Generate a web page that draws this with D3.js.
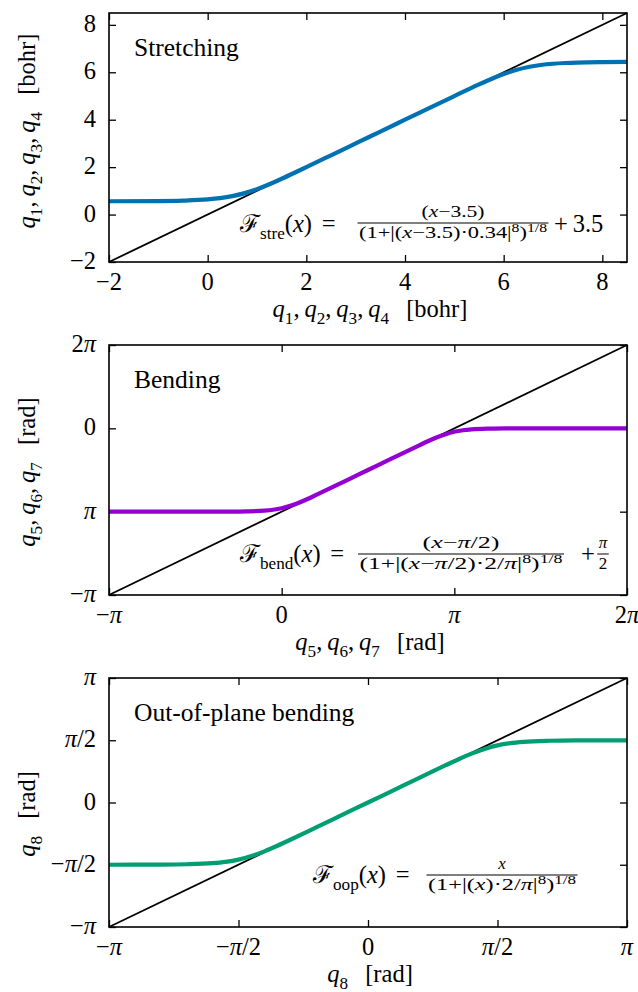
<!DOCTYPE html>
<html>
<head>
<meta charset="utf-8">
<script src="https://cdn.jsdelivr.net/npm/d3@7"></script>
<style>
  body { margin: 0; background: #fff; }
  svg text { font-family: "Liberation Serif", "DejaVu Serif", serif; fill: #000; white-space: pre; }
</style>
</head>
<body>
<svg id="fig" width="638" height="992"></svg>
<script>
// ---- data ---------------------------------------------------------------
// Stretching coordinate (bohr)
const streX = [-2, -1, -0.5, 0, 0.25, 0.5, 0.75, 1, 1.25, 1.5, 1.75, 2, 2.5, 3, 3.5, 4, 4.5, 5, 5.25, 5.5, 5.75, 6, 6.25, 6.5, 6.75, 7, 7.25, 7.5, 8, 8.5];
const streY = [0.561, 0.571, 0.589, 0.639, 0.692, 0.777, 0.904, 1.074, 1.281, 1.511, 1.753, 2.001, 2.500, 3.000, 3.500, 4.000, 4.500, 4.999, 5.247, 5.489, 5.719, 5.926, 6.096, 6.223, 6.308, 6.361, 6.392, 6.411, 6.429, 6.436];
const streDomain = [-2, 8.5];
const streTicks = [-2, 0, 2, 4, 6, 8];
const streTickLabels = ["−2", "0", "2", "4", "6", "8"];

// Bending coordinate (in units of pi)
const bendX = [-1.0, -0.7, -0.5, -0.3, -0.2, -0.1, -0.05, 0.0, 0.05, 0.1, 0.15, 0.2, 0.3, 0.4, 0.5, 0.6, 0.7, 0.8, 0.85, 0.9, 0.95, 1.0, 1.05, 1.1, 1.2, 1.3, 1.5, 1.7, 2.0];
const bendY = [0.0, 0.0001, 0.0002, 0.0014, 0.0041, 0.0129, 0.0234, 0.0415, 0.0697, 0.1077, 0.1524, 0.2006, 0.3, 0.4, 0.5, 0.6, 0.7, 0.7994, 0.8476, 0.8923, 0.9303, 0.9585, 0.9766, 0.9871, 0.9959, 0.9986, 0.9998, 0.9999, 1.0];
const bendDomain = [-1, 2];
const bendXTicks = [-1, 0, 1, 2];
const bendXTickLabels = ["−π", "0", "π", "2π"];
const bendYTicks = [-1, 0, 1, 2];
const bendYTickLabels = ["−π", "π", "0", "2π"];

// Out-of-plane bending coordinate (in units of pi)
const oopX = [-1.0, -0.8, -0.7, -0.6, -0.55, -0.5, -0.45, -0.4, -0.35, -0.3, -0.2, -0.1, 0, 0.1, 0.2, 0.3, 0.35, 0.4, 0.45, 0.5, 0.55, 0.6, 0.7, 0.8, 1.0];
const oopY = [-0.4998, -0.4986, -0.4959, -0.4871, -0.4766, -0.4585, -0.4303, -0.3923, -0.3476, -0.2994, -0.2, -0.1, 0, 0.1, 0.2, 0.2994, 0.3476, 0.3923, 0.4303, 0.4585, 0.4766, 0.4871, 0.4959, 0.4986, 0.4998];
const oopDomain = [-1, 1];
const oopTicks = [-1, -0.5, 0, 0.5, 1];
const oopTickLabels = ["−π", "−π/2", "0", "π/2", "π"];

// ---- helpers ------------------------------------------------------------
const svg = d3.select("#fig");
const LEFT = 109, RIGHT = 627;
const FS = 24.5;      // main text size
const SFS = 17;       // script size for fraction parts

// rich text: parts = [[string, kind]] ; kind: "" roman, "i" italic, "b" subscript, "p" superscript
function rich(g, parts, size) {
  const t = g.append("text").attr("font-size", size);
  let shift = 0;
  parts.forEach(([s, k]) => {
    let target = 0, fs = size;
    if (k.includes("b")) { target = 0.28 * size; fs = size * 0.7; }
    if (k.includes("p")) { target = -0.38 * size; fs = size * 0.7; }
    const sp = t.append("tspan").text(s).attr("font-size", fs);
    if (target - shift !== 0) sp.attr("dy", target - shift);
    if (k.includes("i")) sp.attr("font-style", "italic");
    shift = target;
  });
  return t;
}

// split a tick label so that pi is set in italic
function labelParts(str) {
  const parts = [];
  for (const ch of str) parts.push([ch, ch === "π" ? "i" : ""]);
  return parts;
}

// stacked fraction; optional widths stretch the script-size rows
function fraction(g, cx, barY, num, den, size, numW, denW) {
  const n = rich(g, num, size).attr("text-anchor", "middle").attr("x", cx).attr("y", barY - 6);
  const d = rich(g, den, size).attr("text-anchor", "middle").attr("x", cx).attr("y", barY + 15);
  if (numW) n.attr("textLength", numW).attr("lengthAdjust", "spacingAndGlyphs");
  if (denW) d.attr("textLength", denW).attr("lengthAdjust", "spacingAndGlyphs");
  const w = Math.max(numW || n.node().getComputedTextLength(), denW || d.node().getComputedTextLength()) + 3;
  g.append("line").attr("x1", cx - w / 2).attr("x2", cx + w / 2)
    .attr("y1", barY).attr("y2", barY).attr("stroke", "#000").attr("stroke-width", 1);
}

function panel(cfg) {
  const g = svg.append("g");
  const x = d3.scaleLinear().domain(cfg.domain).range([LEFT, RIGHT]);
  const y = d3.scaleLinear().domain(cfg.domain).range([cfg.bottom, cfg.top]);

  // tick marks pointing inward on all four sides
  const tickStyle = s => s.call(a => a.select(".domain").remove())
    .call(a => a.selectAll("line").attr("stroke", "#000").attr("stroke-width", 1.3));
  g.append("g").attr("transform", `translate(0,${cfg.bottom})`)
    .call(d3.axisBottom(x).tickValues(cfg.xTicks).tickSize(-7).tickFormat("")).call(tickStyle);
  g.append("g").attr("transform", `translate(0,${cfg.top})`)
    .call(d3.axisTop(x).tickValues(cfg.xTicks).tickSize(-7).tickFormat("")).call(tickStyle);
  g.append("g").attr("transform", `translate(${LEFT},0)`)
    .call(d3.axisLeft(y).tickValues(cfg.yTicks).tickSize(-7).tickFormat("")).call(tickStyle);
  g.append("g").attr("transform", `translate(${RIGHT},0)`)
    .call(d3.axisRight(y).tickValues(cfg.yTicks).tickSize(-7).tickFormat("")).call(tickStyle);

  // identity reference line
  g.append("path")
    .datum(cfg.domain.map(v => [v, v]))
    .attr("d", d3.line().x(d => x(d[0])).y(d => y(d[1])))
    .attr("fill", "none").attr("stroke", "#000").attr("stroke-width", 1.8);

  // transformed coordinate curve
  g.append("path")
    .datum(cfg.xs.map((v, i) => [v, cfg.ys[i]]))
    .attr("d", d3.line().x(d => x(d[0])).y(d => y(d[1])).curve(d3.curveMonotoneX))
    .attr("fill", "none").attr("stroke", cfg.color).attr("stroke-width", 4.2);

  // frame
  g.append("rect").attr("x", LEFT).attr("y", cfg.top)
    .attr("width", RIGHT - LEFT).attr("height", cfg.bottom - cfg.top)
    .attr("fill", "none").attr("stroke", "#000").attr("stroke-width", 1.6);

  // tick labels
  cfg.xTicks.forEach((v, i) => {
    rich(g, labelParts(cfg.xLabels[i]), FS).attr("text-anchor", "middle")
      .attr("x", x(v)).attr("y", cfg.bottom + 28);
  });
  cfg.yTicks.forEach((v, i) => {
    rich(g, labelParts(cfg.yLabels[i]), FS).attr("text-anchor", "end")
      .attr("x", 96).attr("y", y(v) + 7);
  });

  // axis titles
  rich(g, cfg.xTitle, FS).attr("text-anchor", "middle").attr("x", 370).attr("y", cfg.bottom + 55);
  const yt = g.append("g").attr("transform", `translate(${cfg.yTitleX},${cfg.yTitleY}) rotate(-90)`);
  rich(yt, cfg.yTitle, FS).attr("text-anchor", "middle").attr("x", 0).attr("y", 0);

  // panel name
  g.append("text").attr("font-size", 25.5).attr("x", 134).attr("y", cfg.top + 43).text(cfg.name);

  return g;
}

const c = [",\u2009", ""];
const gap = ["\u2002\u2009[", ""];

// ---- stretching ---------------------------------------------------------
const g1 = panel({
  top: 13, bottom: 262, domain: streDomain,
  xs: streX, ys: streY, color: "#0072b2",
  xTicks: streTicks, xLabels: streTickLabels, yTicks: streTicks, yLabels: streTickLabels,
  name: "Stretching",
  xTitle: [["q","i"],["1","b"],c,["q","i"],["2","b"],c,["q","i"],["3","b"],c,["q","i"],["4","b"],gap,["bohr]",""]],
  yTitle: [["q","i"],["1","b"],c,["q","i"],["2","b"],c,["q","i"],["3","b"],c,["q","i"],["4","b"],gap,["bohr]",""]],
  yTitleX: 35, yTitleY: 131
});
rich(g1, [["ℱ",""],["stre","b"],["(",""],["x","i"],[")\u2009\u2009=",""]], FS).attr("x", 240).attr("y", 232);
fraction(g1, 453, 223,
  [["(",""],["x","i"],["−3.5)",""]],
  [["(1+|(",""],["x","i"],["−3.5)·0.34|",""],["8","p"],[")",""],["1/8","p"]], SFS, 63, 188);
rich(g1, [["+\u20093.5",""]], FS).attr("x", 554).attr("y", 232);

// ---- bending ------------------------------------------------------------
const g2 = panel({
  top: 345, bottom: 595, domain: bendDomain,
  xs: bendX, ys: bendY, color: "#9400d3",
  xTicks: bendXTicks, xLabels: bendXTickLabels, yTicks: bendYTicks, yLabels: bendYTickLabels,
  name: "Bending",
  xTitle: [["q","i"],["5","b"],c,["q","i"],["6","b"],c,["q","i"],["7","b"],gap,["rad]",""]],
  yTitle: [["q","i"],["5","b"],c,["q","i"],["6","b"],c,["q","i"],["7","b"],gap,["rad]",""]],
  yTitleX: 35, yTitleY: 472
});
rich(g2, [["ℱ",""],["bend","b"],["(",""],["x","i"],[")\u2009\u2009=",""]], FS).attr("x", 240).attr("y", 562);
fraction(g2, 461, 554,
  [["(",""],["x","i"],["−",""],["π","i"],["/2)",""]],
  [["(1+|(",""],["x","i"],["−",""],["π","i"],["/2)·2/",""],["π","i"],["|",""],["8","p"],[")",""],["1/8","p"]], SFS, 77, 203);
rich(g2, [["+",""]], FS).attr("x", 581).attr("y", 562);
fraction(g2, 603, 554, [["π","i"]], [["2",""]], SFS);

// ---- out-of-plane bending -----------------------------------------------
const g3 = panel({
  top: 678, bottom: 927, domain: oopDomain,
  xs: oopX, ys: oopY, color: "#009e73",
  xTicks: oopTicks, xLabels: oopTickLabels, yTicks: oopTicks, yLabels: oopTickLabels,
  name: "Out-of-plane bending",
  xTitle: [["q","i"],["8","b"],gap,["rad]",""]],
  yTitle: [["q","i"],["8","b"],gap,["rad]",""]],
  yTitleX: 35, yTitleY: 814
});
rich(g3, [["ℱ",""],["oop","b"],["(",""],["x","i"],[")\u2009\u2009=",""]], FS).attr("x", 313).attr("y", 883);
fraction(g3, 502, 875,
  [["x","i"]],
  [["(1+|(",""],["x","i"],[")·2/",""],["π","i"],["|",""],["8","p"],[")",""],["1/8","p"]], SFS, null, 148);
</script>
</body>
</html>
